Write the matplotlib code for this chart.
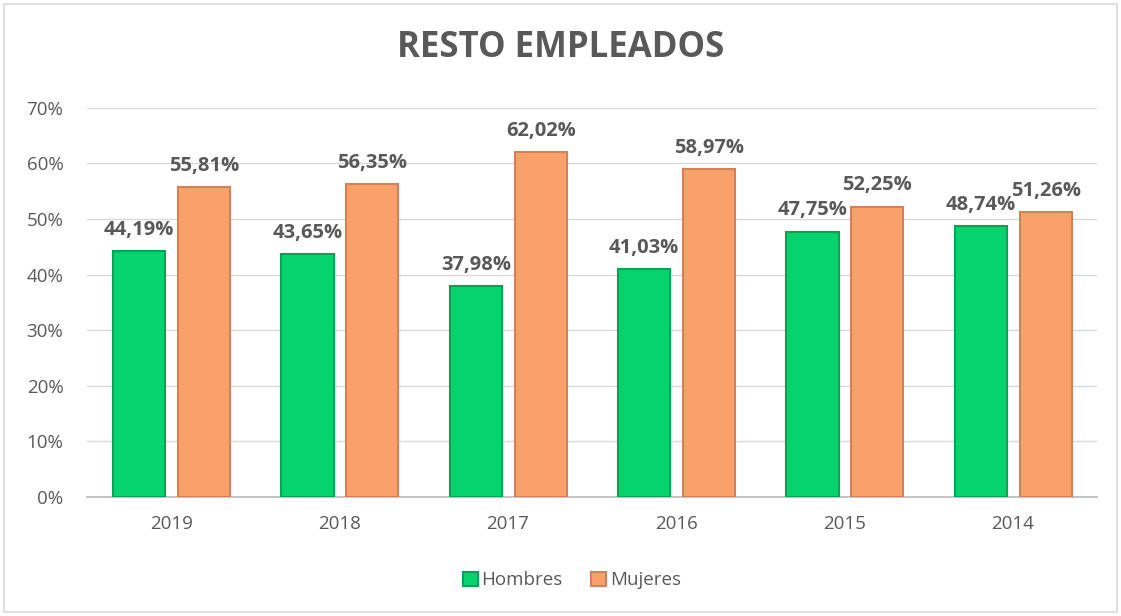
import matplotlib.pyplot as plt
import numpy as np
from matplotlib.patches import Rectangle

years = ['2019', '2018', '2017', '2016', '2015', '2014']
hombres = [44.19, 43.65, 37.98, 41.03, 47.75, 48.74]
mujeres = [55.81, 56.35, 62.02, 58.97, 52.25, 51.26]

plt.rcParams['font.family'] = ['Open Sans', 'DejaVu Sans']

fig = plt.figure(figsize=(11.21, 6.16), dpi=100)
ax = fig.add_axes([0.0776, 0.193, 0.901, 0.632])

x = np.arange(len(years))
w = 0.31
b1 = ax.bar(x - 0.19, hombres, w, color='#06D26E', edgecolor='#04A455', linewidth=1.5, label='Hombres', zorder=3)
b2 = ax.bar(x + 0.195, mujeres, w, color='#F9A06B', edgecolor='#D0825A', linewidth=1.5, label='Mujeres', zorder=3)

for bars in (b1, b2):
    for r in bars:
        v = r.get_height()
        ax.annotate(f'{v:.2f}%'.replace('.', ','), (r.get_x() + r.get_width() / 2, v),
                    xytext=(0, 8), textcoords='offset points', ha='center', va='bottom',
                    fontsize=14.5, fontweight='bold', color='#595959')

ax.set_xlim(-0.5, len(years) - 0.5)
ax.set_ylim(0, 70)
ax.set_yticks(range(0, 71, 10))
ax.set_yticklabels([f'{v}%' for v in range(0, 71, 10)])
ax.set_xticks(x)
ax.set_xticklabels(years)
ax.tick_params(axis='both', length=0, labelsize=13.5, colors='#595959')
ax.tick_params(axis='y', pad=17)
ax.tick_params(axis='x', pad=13)
ax.grid(axis='y', color='#D9D9D9', linewidth=1, zorder=0)
for s in ['top', 'right', 'left']:
    ax.spines[s].set_visible(False)
ax.spines['bottom'].set_color('#BFBFBF')
ax.spines['bottom'].set_linewidth(1.3)

fig.text(0.5, 0.922, 'RESTO EMPLEADOS', ha='center', va='center',
         fontsize=25, fontweight='bold', color='#595959')

fig.legend(loc='center', bbox_to_anchor=(0.51, 0.058), ncol=2, frameon=False,
           fontsize=13.5, labelcolor='#595959', handlelength=0.8, handleheight=0.8,
           handletextpad=0.2, columnspacing=1.5)

fig.patches.append(Rectangle((0.004, 0.006), 0.992, 0.988, transform=fig.transFigure,
                             fill=False, edgecolor='#D9D9D9', linewidth=1.2))

plt.savefig('out.png')
